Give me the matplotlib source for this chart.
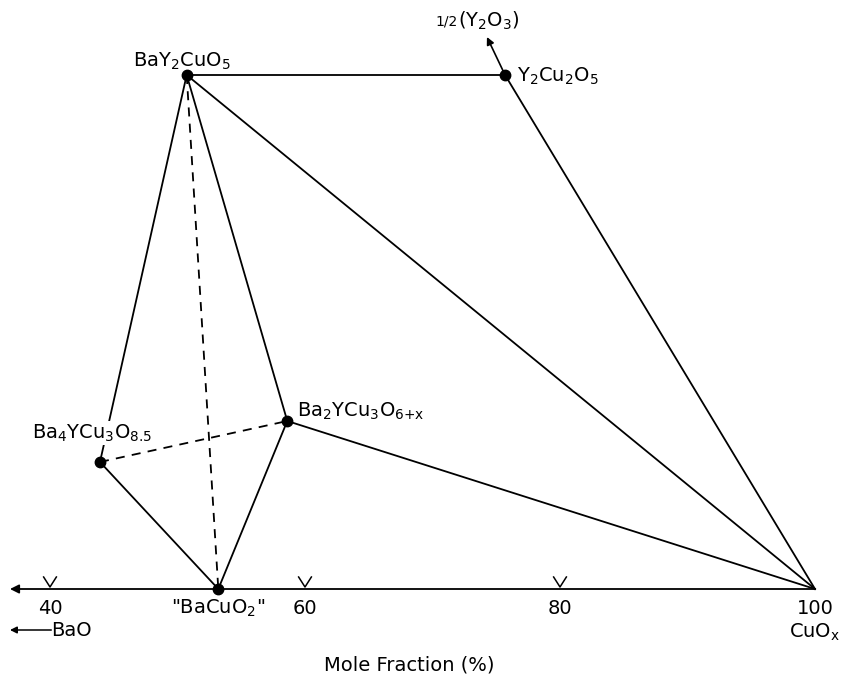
import matplotlib.pyplot as plt

# composition (mole % CuOx) and height in the Y-direction of the section
phases = ['BaY2CuO5', 'Y2Cu2O5', 'Ba4YCu3O8.5', 'Ba2YCu3O6+x', 'BaCuO2', 'CuOx']
x_pct = [50.72, 75.69, 43.92, 58.61, 53.2, 100.0]
y_pos = [514, 514, 127, 168, 0, 0]

solid_ties = [('BaY2CuO5', 'Y2Cu2O5'), ('Y2Cu2O5', 'CuOx'), ('BaY2CuO5', 'CuOx'),
              ('BaY2CuO5', 'Ba2YCu3O6+x'), ('Ba2YCu3O6+x', 'CuOx'),
              ('Ba2YCu3O6+x', 'BaCuO2'), ('BaCuO2', 'Ba4YCu3O8.5'),
              ('BaY2CuO5', 'Ba4YCu3O8.5')]
dashed_ties = [('BaY2CuO5', 'BaCuO2'), ('Ba4YCu3O8.5', 'Ba2YCu3O6+x')]

tick_vals = [40, 60, 80, 100]
tick_labels = ['40', '60', '80', '100']

pos = {p: (x, y) for p, x, y in zip(phases, x_pct, y_pos)}

fig = plt.figure(figsize=(8.42, 6.85), dpi=100)
ax = fig.add_axes([0, 0, 1, 1])
ax.set_xlim(40 - 50 / 12.75, 40 + 792 / 12.75)
ax.set_ylim(589 - 685, 589)
ax.axis('off')

for a, b in solid_ties:
    ax.plot([pos[a][0], pos[b][0]], [pos[a][1], pos[b][1]], color='k', lw=1.3, zorder=2)
for a, b in dashed_ties:
    ax.plot([pos[a][0], pos[b][0]], [pos[a][1], pos[b][1]], color='k', lw=1.3,
            ls=(0, (5, 4)), zorder=3.5)

ax.plot(x_pct[:5], y_pos[:5], 'o', color='k', ms=7.5, zorder=4)

# composition axis with arrow towards BaO
ax.annotate('', xy=(36.86, 0), xytext=(100, 0),
            arrowprops=dict(arrowstyle='-|>', color='k', lw=1.3, mutation_scale=13,
                            shrinkA=0, shrinkB=0))
for t in tick_vals[:-1]:
    ax.plot([t - 0.5, t, t + 0.5], [12, 2, 12], color='k', lw=1.1)
for t, lab in zip(tick_vals, tick_labels):
    ax.text(t, -19, lab, ha='center', va='center', fontsize=14)

# direction towards Y2O3
ax.annotate('', xy=(74.27, 552), xytext=(75.69, 514),
            arrowprops=dict(arrowstyle='-|>', color='k', lw=1.2, mutation_scale=11,
                            shrinkA=0, shrinkB=0))
ax.text(72.0, 568, '1/2', ha='right', va='center', fontsize=10)
ax.text(72.0, 568, r'$\mathregular{(Y_2O_3)}$', ha='left', va='center', fontsize=14)

ax.text(46.5, 528, r'$\mathregular{BaY_2CuO_5}$', ha='left', va='center', fontsize=14)
ax.text(76.6, 513, r'$\mathregular{Y_2Cu_2O_5}$', ha='left', va='center', fontsize=14)
ax.text(38.6, 156, r'$\mathregular{Ba_4YCu_3O_{8.5}}$', ha='left', va='center', fontsize=14,
        bbox=dict(fc='white', ec='none', pad=1), zorder=3)
ax.text(59.4, 178, r'$\mathregular{Ba_2YCu_3O_{6{+}x}}$', ha='left', va='center', fontsize=14)
ax.text(53.2, -19, r'"BaCuO$_\mathregular{2}$"', ha='center', va='center', fontsize=14)
ax.text(100, -43, r'CuO$_\mathregular{x}$', ha='center', va='center', fontsize=14)

ax.annotate('', xy=(36.86, -41), xytext=(40.1, -41),
            arrowprops=dict(arrowstyle='-|>', color='k', lw=1.1, mutation_scale=10,
                            shrinkA=0, shrinkB=0))
ax.text(40.1, -41, 'BaO', ha='left', va='center', fontsize=14)

ax.text(68.2, -76, 'Mole Fraction (%)', ha='center', va='center', fontsize=14)

fig.savefig('out.png', dpi=100)
